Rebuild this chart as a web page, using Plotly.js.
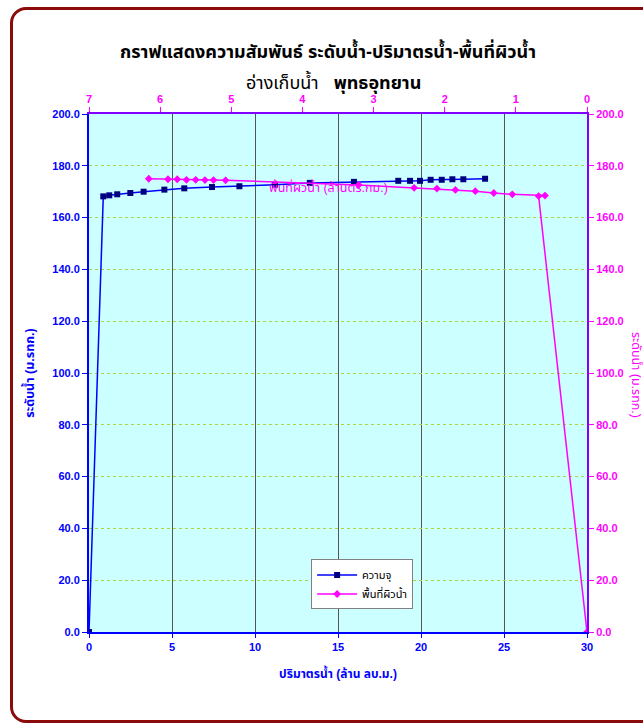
<!DOCTYPE html>
<html>
<head>
<meta charset="utf-8">
<script src="https://cdn.plot.ly/plotly-3.0.1.min.js"></script>
<style>
  html, body { margin: 0; padding: 0; background: #ffffff; }
  #wrap { position: relative; width: 643px; height: 724px; overflow: hidden; }
  #chart { position: absolute; left: 0; top: 0; width: 643px; height: 724px; }
  #frame { position: absolute; left: 10px; top: 7px; width: 720px; height: 710px;
           border: 3px solid #8B0A0A; border-radius: 16px; pointer-events: none; }
</style>
</head>
<body>
<div id="wrap">
  <div id="chart"></div>
  <div id="frame"></div>
</div>
<script>
// Capacity curve: volume (million m3) vs water level (m MSL)
const volume = [0, 0.86, 1.22, 1.70, 2.49, 3.29, 4.54, 5.74, 7.41, 9.06, 11.2, 13.3, 15.96, 18.63, 19.34, 19.94, 20.58, 21.25, 21.89, 22.55, 23.86];
const levelV = [0, 168.2, 168.6, 169.0, 169.5, 170.0, 170.8, 171.3, 171.8, 172.1, 172.7, 173.4, 173.8, 174.2, 174.2, 174.2, 174.6, 174.6, 174.8, 174.8, 175.0];

// Surface area curve: area vs water level
const area   = [6.16, 5.89, 5.76, 5.63, 5.50, 5.37, 5.25, 5.08, 3.21, 2.43, 2.11, 1.85, 1.57, 1.31, 1.05, 0.59, 0.68, 0];
const levelA = [175.0, 174.8, 174.8, 174.6, 174.6, 174.5, 174.5, 174.4, 172.6, 171.5, 171.2, 170.7, 170.2, 169.5, 169.0, 168.5, 168.3, 0];

const seriesNames = ["ความจุ", "พื้นที่ผิวน้ำ"];
const titleLine1 = "กราฟแสดงความสัมพันธ์ ระดับน้ำ-ปริมาตรน้ำ-พื้นที่ผิวน้ำ";
const titleLine2a = "อ่างเก็บน้ำ";
const titleLine2b = "พุทธอุทยาน";
const xTitle = "ปริมาตรน้ำ (ล้าน ลบ.ม.)";
const yTitle = "ระดับน้ำ (ม.รทก.)";
const y2Title = "ระดับน้ำ (ม.รทก.)";
const x2Title = "พื้นที่ผิวน้ำ (ล้านตร.กม.)";

const FONT = "Arial, 'Liberation Sans', 'Noto Sans Thai', 'Noto Sans', sans-serif";
const BLUE = "#0000FF";
const PINK = "#FF00FF";
const PURPLE = "#7F00FF";

const traces = [
  {
    x: volume, y: levelV, name: seriesNames[0], type: "scatter", mode: "lines+markers",
    xaxis: "x", yaxis: "y",
    line: { color: BLUE, width: 1.5 },
    marker: { symbol: "square", size: 6, color: "#000080", line: { color: "#000080", width: 0 } }
  },
  {
    x: area, y: levelA, name: seriesNames[1], type: "scatter", mode: "lines+markers",
    xaxis: "x2", yaxis: "y2",
    line: { color: PINK, width: 1.5 },
    marker: { symbol: "diamond", size: 6, color: PINK }
  }
];

const layout = {
  width: 643, height: 724,
  margin: { l: 89, r: 56, t: 114, b: 92, pad: 0 },
  paper_bgcolor: "rgba(0,0,0,0)",
  plot_bgcolor: "#CCFFFF",
  font: { family: FONT, color: "#000000" },
  showlegend: true,
  title: {
    text: "<b>" + titleLine1 + "</b>",
    font: { family: FONT, size: 18, color: "#000000" },
    x: 0.48, xanchor: "center", xref: "paper",
    y: 1 - 52 / 724, yanchor: "middle", yref: "container"
  },
  xaxis: {
    range: [0, 30], dtick: 5, tick0: 0,
    showgrid: true, gridcolor: "#555555", gridwidth: 1,
    zeroline: false,
    showline: true, linecolor: BLUE, linewidth: 2,
    ticks: "outside", ticklen: 4, tickcolor: BLUE,
    tickfont: { family: FONT, size: 11, color: BLUE, weight: "bold" },
    title: { text: "<b>" + xTitle + "</b>", font: { family: FONT, size: 12, color: BLUE }, standoff: 17 }
  },
  yaxis: {
    range: [0, 200], dtick: 20, tick0: 0, tickformat: ".1f",
    showgrid: true, gridcolor: "#B0D43C", gridwidth: 1, griddash: "dot",
    zeroline: false,
    showline: true, linecolor: BLUE, linewidth: 2,
    ticks: "outside", ticklen: 5, tickcolor: BLUE,
    tickfont: { family: FONT, size: 11, color: BLUE, weight: "bold" },
    title: { text: "<b>" + yTitle + "</b>", font: { family: FONT, size: 12.5, color: BLUE }, standoff: 15 }
  },
  xaxis2: {
    overlaying: "x", side: "top", anchor: "y",
    range: [7, 0], dtick: 1, tick0: 0,
    showgrid: false, zeroline: false,
    showline: true, linecolor: PURPLE, linewidth: 2,
    ticks: "outside", ticklen: 5, tickcolor: PINK,
    tickfont: { family: FONT, size: 11, color: PINK, weight: "bold" }
  },
  yaxis2: {
    overlaying: "y", side: "right", anchor: "x",
    range: [0, 200], dtick: 20, tick0: 0, tickformat: ".1f",
    showgrid: false, zeroline: false,
    showline: true, linecolor: PURPLE, linewidth: 2,
    ticks: "outside", ticklen: 5, tickcolor: PINK,
    tickfont: { family: FONT, size: 11, color: PINK, weight: "bold" }
  },
  legend: {
    x: 0.446, y: 0.140, xanchor: "left", yanchor: "top",
    bgcolor: "#FFFFFF", bordercolor: "#808080", borderwidth: 1,
    font: { family: FONT, size: 11, color: "#000000" },
    tracegroupgap: 2, itemwidth: 40
  },
  annotations: [
    {
      text: titleLine2a + "   <b>" + titleLine2b + "</b>",
      xref: "paper", yref: "paper", x: 0.49, y: 1 + (114 - 82) / 518,
      xanchor: "center", yanchor: "middle", showarrow: false,
      font: { family: FONT, size: 18, color: "#000000" }
    },
    {
      text: x2Title,
      xref: "paper", yref: "paper", x: (328 - 89) / 498, y: (632 - 187) / 518,
      xanchor: "center", yanchor: "middle", showarrow: false,
      font: { family: FONT, size: 12.5, color: PINK }
    },
    {
      text: y2Title, textangle: 90,
      xref: "paper", yref: "paper", x: (637 - 89) / 498, y: (632 - 375) / 518,
      xanchor: "center", yanchor: "middle", showarrow: false,
      font: { family: FONT, size: 12.5, color: PINK }
    }
  ]
};

Plotly.newPlot("chart", traces, layout, { displayModeBar: false, staticPlot: true });
</script>
</body>
</html>
